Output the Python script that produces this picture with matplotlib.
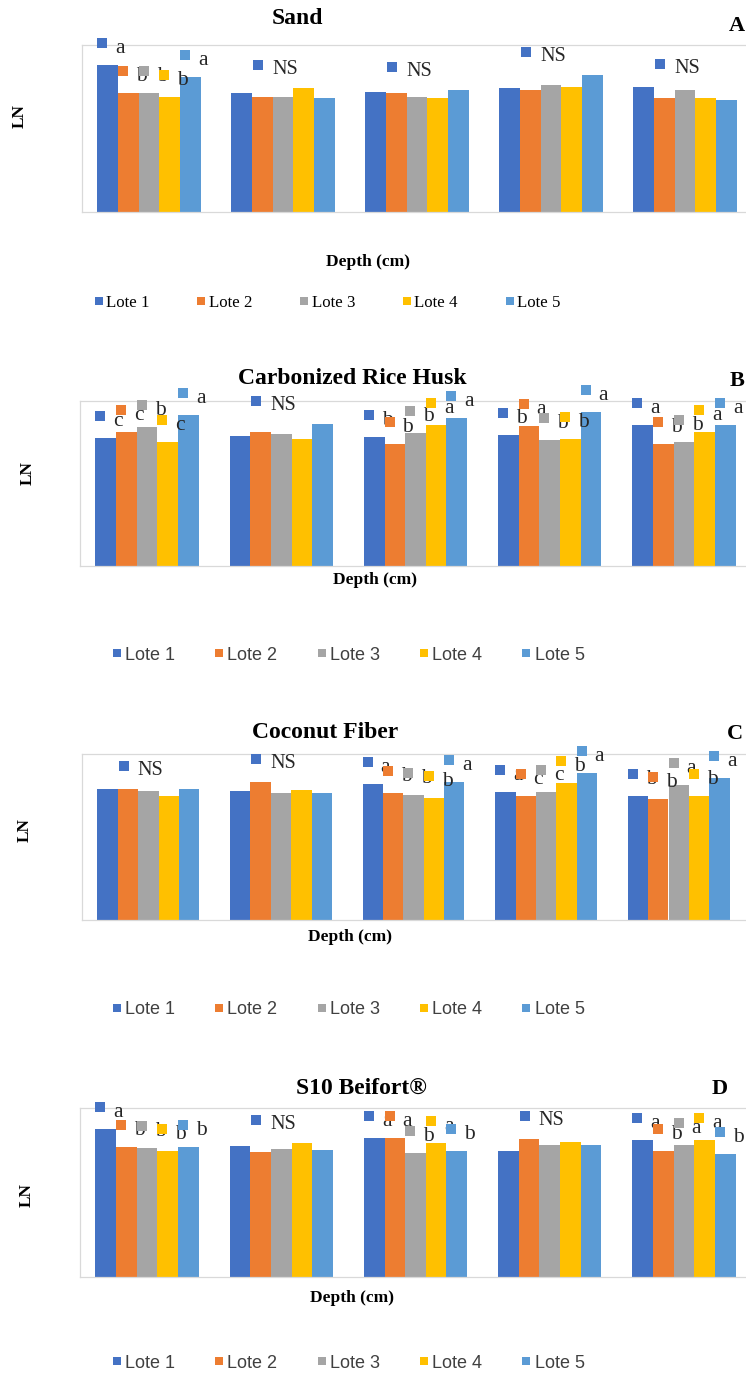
import numpy as np
import matplotlib
matplotlib.use('Agg')
import matplotlib.pyplot as plt
from matplotlib.lines import Line2D
from matplotlib.transforms import offset_copy

W, H = 746, 1374

lotes = ['Lote 1', 'Lote 2', 'Lote 3', 'Lote 4', 'Lote 5']
colors = ['#4472C4', '#ED7D31', '#A5A5A5', '#FFC000', '#5B9BD5']

# LN per depth group (rows), one value per lote (columns)
sand = [[8.80, 7.10, 7.10, 6.90, 8.10],
        [7.10, 6.90, 6.90, 7.40, 6.80],
        [7.20, 7.10, 6.90, 6.80, 7.30],
        [7.40, 7.30, 7.60, 7.50, 8.20],
        [7.50, 6.80, 7.30, 6.80, 6.70]]
sand_letters = [list('abbba'), ['NS'], ['NS'], ['NS'], ['NS']]

rice = [[7.78, 8.10, 8.44, 7.53, 9.15],
        [7.90, 8.14, 8.02, 7.72, 8.59],
        [7.84, 7.41, 8.08, 8.55, 8.99],
        [7.96, 8.50, 7.65, 7.72, 9.35],
        [8.56, 7.41, 7.53, 8.14, 8.55]]
rice_letters = [list('ccbca'), ['NS'], list('bbbaa'), list('babba'), list('abbaa')]

coco = [[7.91, 7.91, 7.79, 7.49, 7.91],
        [7.79, 8.33, 7.67, 7.85, 7.67],
        [8.21, 7.67, 7.55, 7.37, 8.33],
        [7.73, 7.49, 7.73, 8.27, 8.87],
        [7.49, 7.31, 8.15, 7.49, 8.57]]
coco_letters = [['NS'], ['NS'], list('abbba'), list('accba'), list('bbaba')]

beifort = [[8.74, 7.67, 7.62, 7.46, 7.67],
           [7.73, 7.40, 7.55, 7.91, 7.50],
           [8.21, 8.21, 7.32, 7.91, 7.44],
           [7.44, 8.15, 7.79, 7.97, 7.79],
           [8.09, 7.44, 7.79, 8.09, 7.26]]
beifort_letters = [list('abbbb'), ['NS'], list('aabab'), ['NS'], list('abaab')]

serif = 'Liberation Serif'
sans = 'Liberation Sans'

# layout of each panel in pixels
panels = [
    dict(title='Sand', tag='A', vals=sand, letters=sand_letters,
         box=(82, 752, 45, 212), title_xy=(297, 19), tag_xy=(737, 26),
         ln_xy=(20, 116), depth_xy=(368, 262), leg_xy=(93.5, 303), leg_font=serif),
    dict(title='Carbonized Rice Husk', tag='B', vals=rice, letters=rice_letters,
         box=(80, 751, 401, 566), title_xy=(352, 379), tag_xy=(737, 381),
         ln_xy=(28, 473), depth_xy=(375, 580), leg_xy=(112.5, 655), leg_font=sans),
    dict(title='Coconut Fiber', tag='C', vals=coco, letters=coco_letters,
         box=(82, 745, 754, 920), title_xy=(325, 733), tag_xy=(735, 734),
         ln_xy=(25, 830), depth_xy=(350, 937), leg_xy=(112.5, 1010), leg_font=sans),
    dict(title='S10 Beifort®', tag='D', vals=beifort, letters=beifort_letters,
         box=(80, 751, 1108, 1277), title_xy=(361, 1088), tag_xy=(720, 1089),
         ln_xy=(27, 1195), depth_xy=(352, 1298), leg_xy=(112.5, 1363), leg_font=sans),
]

fig = plt.figure(figsize=(W / 100, H / 100), dpi=100)
bw = 1 / 6.5
grid_c = '#D9D9D9'
lab_c = '#262626'

for p in panels:
    x0, x1, y0, y1 = p['box']
    ax = fig.add_axes([x0 / W, 1 - y1 / H, (x1 - x0) / W, (y1 - y0) / H])
    vals = np.array(p['vals'])
    xg = np.arange(vals.shape[0])
    for j in range(5):
        ax.bar(xg + (j - 2) * bw, vals[:, j], bw, color=colors[j], zorder=2)
    ax.set_xlim(-0.5, 4.5)
    ax.set_ylim(0, 10)
    ax.set_xticks([])
    ax.set_yticks([])
    for s in ['left', 'bottom', 'top']:
        ax.spines[s].set_color(grid_c)
        ax.spines[s].set_linewidth(0.9)
    ax.spines['right'].set_visible(False)

    # data labels: small key square + letter, drawn series by series
    sq_tr = offset_copy(ax.transData, fig=fig, x=5, y=22, units='dots')
    tx_tr = offset_copy(ax.transData, fig=fig, x=18, y=12, units='dots')
    ns_sq_tr = offset_copy(ax.transData, fig=fig, x=6, y=23, units='dots')
    ns_tx_tr = offset_copy(ax.transData, fig=fig, x=20, y=14, units='dots')
    for j in range(5):
        for i, lab in enumerate(p['letters']):
            left1 = xg[i] + (-1 - 0.5) * bw
            if lab == ['NS']:
                if j == 0:
                    top = vals[i].max()
                    ax.plot(left1, top, 's', ms=7.2, mew=0, color=colors[0],
                            transform=ns_sq_tr, clip_on=False, zorder=10)
                    ax.text(left1, top, 'NS', transform=ns_tx_tr, fontsize=14.5,
                            family=serif, ha='left', va='baseline', color=lab_c,
                            clip_on=False, zorder=11)
                continue
            left = xg[i] + (j - 2.5) * bw
            ax.plot(left, vals[i, j], 's', ms=7.2, mew=0, color=colors[j],
                    transform=sq_tr, clip_on=False, zorder=10 + 2 * j)
            ax.text(left, vals[i, j], lab[j], transform=tx_tr, fontsize=15.5,
                    family=serif, ha='left', va='baseline', color=lab_c,
                    clip_on=False, zorder=11 + 2 * j)

    tx, ty = p['title_xy']
    fig.text(tx / W, 1 - ty / H, p['title'], ha='center', va='center',
             fontsize=17, fontweight='bold', family=serif)
    gx, gy = p['tag_xy']
    fig.text(gx / W, 1 - gy / H, p['tag'], ha='center', va='center',
             fontsize=16, fontweight='bold', family=serif)
    lx, ly = p['ln_xy']
    fig.text(lx / W, 1 - ly / H, 'LN', ha='center', va='center', rotation=90,
             fontsize=12.5, fontweight='bold', family=serif)
    dx, dy = p['depth_xy']
    fig.text(dx / W, 1 - dy / H, 'Depth (cm)', ha='center', va='center',
             fontsize=12.5, fontweight='bold', family=serif)

    handles = [Line2D([], [], ls='none', marker='s', ms=5.8, mew=0, color=c) for c in colors]
    kx, ky = p['leg_xy']
    if p['leg_font'] == serif:
        leg = fig.legend(handles, lotes, loc='center left', ncol=5,
                         bbox_to_anchor=(kx / W, 1 - ky / H), frameon=False,
                         borderpad=0, borderaxespad=0, handlelength=0.6,
                         handletextpad=0.15, columnspacing=2.75,
                         prop={'family': serif, 'size': 12.2})
    else:
        leg = fig.legend(handles, lotes, loc='center left', ncol=5,
                         bbox_to_anchor=(kx / W, 1 - ky / H), frameon=False,
                         borderpad=0, borderaxespad=0, handlelength=0.5,
                         handletextpad=0.2, columnspacing=2.2,
                         prop={'family': sans, 'size': 13})
        for t in leg.get_texts():
            t.set_color('#404040')

fig.savefig('out.png', dpi=100)
